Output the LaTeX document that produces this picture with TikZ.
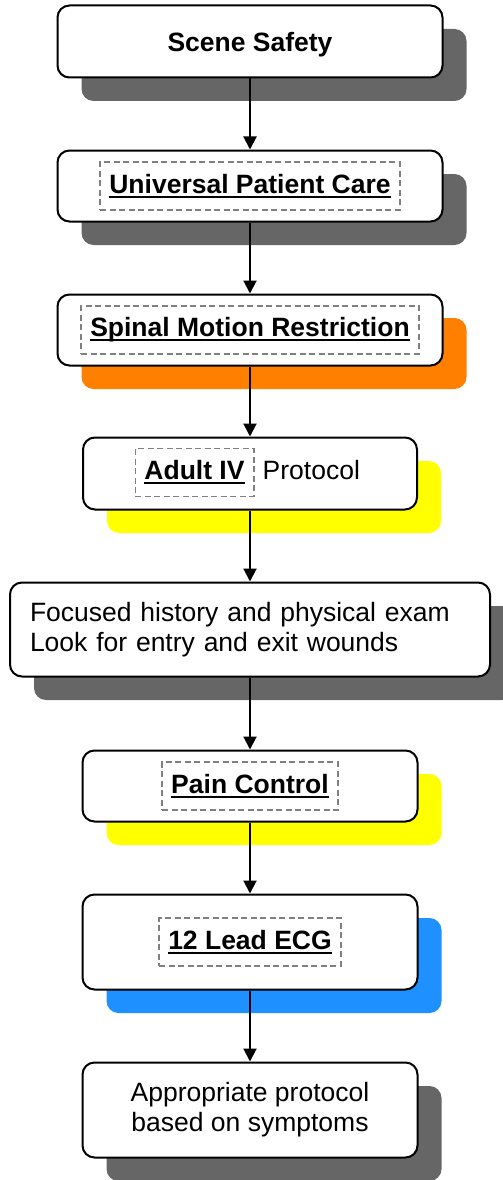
\documentclass[tikz,border=0pt]{standalone}
\usepackage{fontspec}
\setmainfont{Liberation Sans}
\usetikzlibrary{arrows.meta,shadows}
\definecolor{sgray}{HTML}{666666}
\definecolor{sorange}{HTML}{FF8000}
\definecolor{syellow}{HTML}{FFFF00}
\definecolor{sblue}{HTML}{1E90FF}
\definecolor{dgray}{HTML}{808080}
\newcommand\sz{\fontsize{26.5pt}{30pt}\selectfont}
\newcommand\myul[1]{\setbox0\hbox{#1}\rlap{\rule[-4.5pt]{\wd0}{2.2pt}}\box0}
\begin{document}
\begin{tikzpicture}[x=1pt,y=-1pt,
  flowbox/.style={draw=black, line width=2pt, rounded corners=12pt, fill=white, inner sep=0pt},
  sh/.style={general shadow={fill=#1, shadow xshift=24pt, shadow yshift=-23.5pt}},
  tag/.style={draw=dgray, line width=1.9pt, dash pattern=on 6pt off 3.5pt, inner xsep=9pt, inner ysep=0pt, minimum height=48pt, font=\sz\bfseries},
  link/.style={line width=2pt, -{Triangle[width=13pt,length=13pt]}}
]
\useasboundingbox (0,0) rectangle (503,1180);

\node[flowbox, sh=sgray, minimum width=385pt, minimum height=72pt, text depth=0pt, font=\sz\bfseries] (b1) at (250,41.5) {Scene Safety};

\node[flowbox, sh=sgray, minimum width=385pt, minimum height=71pt] (b2) at (250,186) {};
\node[tag] (t2) at (b2.center) {\myul{Universal Patient Care}};

\node[flowbox, sh=sorange, minimum width=385pt, minimum height=71pt] (b3) at (250,330) {};
\node[tag] (t3) at (b3.center) {\myul{Spinal Motion Restriction}};

\node[flowbox, sh=syellow, minimum width=334pt, minimum height=72pt] (b4) at (250,473.5) {};
\node[tag] (t4) at (194.5,472.5) {\myul{Adult IV}};
\node[font=\sz, anchor=base west, inner sep=0pt] (p4) at ([xshift=8pt]t4.base east) {Protocol};

\node[flowbox, sh=sgray, minimum width=479pt, minimum height=94pt, text width=440pt, inner xsep=20pt, align=left, font=\sz] (b5) at (250,629.5) {Focused history and physical exam\\Look for entry and exit wounds};

\node[flowbox, sh=syellow, minimum width=335pt, minimum height=71pt] (b6) at (250,786) {};
\node[tag] (t6) at (b6.center) {\myul{Pain Control}};

\node[flowbox, sh=sblue, minimum width=335pt, minimum height=95pt] (b7) at (250,942) {};
\node[tag] (t7) at (b7.center) {\myul{12 Lead ECG}};

\node[flowbox, sh=sgray, minimum width=335pt, minimum height=95pt, align=center, font=\sz] (b8) at (250,1110) {Appropriate protocol\\based on symptoms};

\draw[link] (b1.south) -- (b2.north);
\draw[link] (b2.south) -- (b3.north);
\draw[link] (b3.south) -- (b4.north);
\draw[link] (b4.south) -- (b5.north);
\draw[link] (b5.south) -- (b6.north);
\draw[link] (b6.south) -- (b7.north);
\draw[link] (b7.south) -- (b8.north);
\end{tikzpicture}
\end{document}
